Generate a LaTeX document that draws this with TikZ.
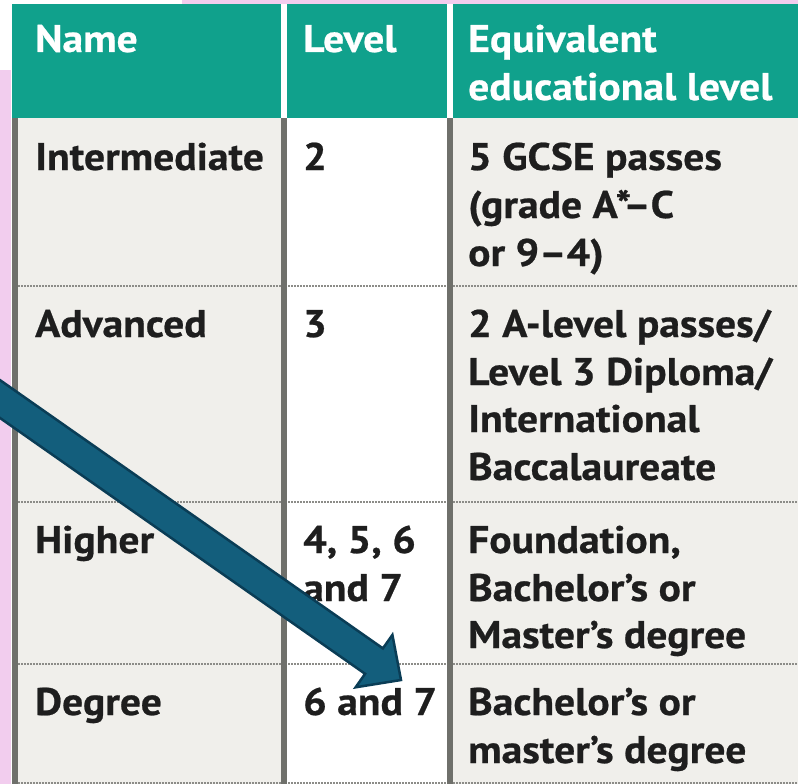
\documentclass[tikz,border=0pt]{standalone}
\usepackage{fontspec}
\setmainfont{PT Sans}[BoldFeatures={FakeStretch=1.08,FakeBold=0.6}]
\definecolor{tealc}{HTML}{10A18C}
\definecolor{bodyc}{HTML}{F0EFEB}
\definecolor{pinkc}{HTML}{F2CDEE}
\definecolor{barc}{HTML}{6F706B}
\definecolor{dotc}{HTML}{8C8C88}
\definecolor{textc}{HTML}{1E1E1E}
\definecolor{arrowfill}{HTML}{135E7C}
\definecolor{arrowline}{HTML}{0A3D56}
\tikzset{
  txt/.style={anchor=base west, inner sep=0pt, text=textc, font=\fontsize{38.5}{46}\selectfont\bfseries},
  hd/.style={txt, text=white},
  dotline/.style={draw=dotc, line width=2pt, dash pattern=on 1.6pt off 1.4pt},
  bigarrow/.style={fill=arrowfill, draw=arrowline, line width=2.5pt, line join=miter}
}
\begin{document}
\begin{tikzpicture}[x=1pt,y=-1pt]
\useasboundingbox (0,0) rectangle (798,784);
\fill[white] (0,0) rectangle (798,784);
\fill[pinkc] (182,0) rectangle (798,4);
\fill[pinkc] (0,70) rectangle (11,784);
% header and body backgrounds
\fill[tealc] (12,4) rectangle (798,118);
\fill[bodyc] (12,118) rectangle (798,784);
\fill[white] (287,118) rectangle (447,784);
% row separators
\foreach \yy in {286,502,664,783} \draw[dotline] (18,\yy) -- (798,\yy);
% column bars
\fill[barc] (12,118) rectangle (18,784);
\fill[barc] (281,118) rectangle (287,784);
\fill[barc] (447,118) rectangle (453,784);
\fill[white] (281,4) rectangle (287,118);
\fill[white] (447,4) rectangle (453,118);
% header
\node[hd] (hname) at (35,52) {Name};
\node[hd] (hlevel) at (303,52) {Level};
\node[hd] (hequa) at (468,52) {Equivalent};
\node[hd] (hequb) at (468,100) {educational level};
% row 1
\node[txt] (n1) at (35,170) {Intermediate};
\node[txt] (l1) at (303,170) {2};
\node[txt] (e1a) at (468,170) {5 GCSE passes};
\node[txt] (e1b) at (468,218) {(grade A*–C};
\node[txt] (e1c) at (468,266) {or 9–4)};
% row 2
\node[txt] (n2) at (35,337) {Advanced};
\node[txt] (l2) at (303,337) {3};
\node[txt] (e2a) at (468,337) {2 A-level passes/};
\node[txt] (e2b) at (468,385) {Level 3 Diploma/};
\node[txt] (e2c) at (468,432) {International};
\node[txt] (e2d) at (468,480) {Baccalaureate};
% row 3
\node[txt] (n3) at (35,553) {Higher};
\node[txt] (l3a) at (303,553) {4, 5, 6};
\node[txt] (l3b) at (303,601) {and 7};
\node[txt] (e3a) at (468,553) {Foundation,};
\node[txt] (e3b) at (468,601) {Bachelor’s or};
\node[txt] (e3c) at (468,648) {Master’s degree};
% row 4
\node[txt] (n4) at (35,715) {Degree};
\node[txt] (l4) at (303,715) {6 and 7};
\node[txt] (e4a) at (468,715) {Bachelor’s or};
\node[txt] (e4b) at (468,763) {master’s degree};
% arrow
\begin{scope}
\clip (0,0) rectangle (798,784);
\coordinate (tip) at (401,680);
\filldraw[bigarrow] (tip) -- (392.4,634.9) -- (382.9,648.4) -- (-15.7,369.1)
  -- (-33.5,394.5) -- (365.1,673.8) -- (355.6,687.3) -- cycle;
\end{scope}
\end{tikzpicture}
\end{document}
